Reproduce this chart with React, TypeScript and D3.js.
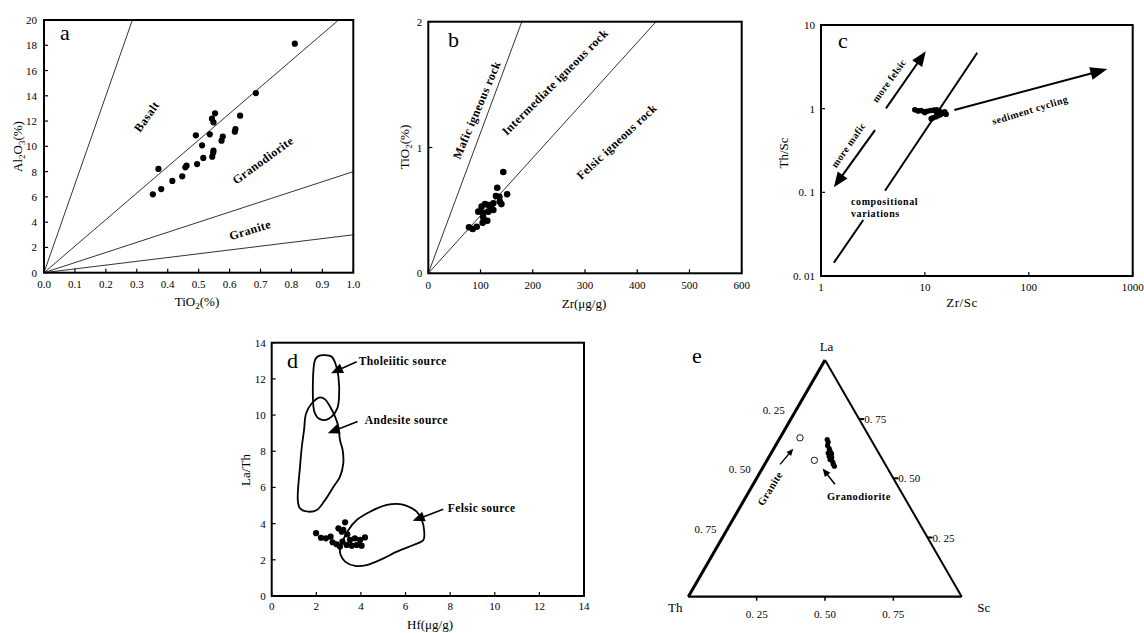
import React from 'react';
import * as d3 from 'd3';

const FONT = '"Liberation Serif", "Times New Roman", serif';

// ---------- Panel a : TiO2 vs Al2O3 ----------
const aTiO2 = [0.352, 0.379, 0.37, 0.415, 0.447, 0.457, 0.461, 0.495, 0.491, 0.511, 0.515, 0.536, 0.543, 0.553, 0.548, 0.544, 0.547, 0.548, 0.574, 0.578, 0.619, 0.617, 0.634, 0.685, 0.811];
const aAl2O3 = [6.2, 6.62, 8.21, 7.26, 7.63, 8.34, 8.47, 8.6, 10.87, 10.08, 9.08, 10.95, 12.19, 12.61, 11.9, 9.18, 9.5, 9.66, 10.45, 10.77, 11.37, 11.16, 12.43, 14.22, 18.13];
const aRatios = [70, 21, 8, 3];
const aXTicks = [0, 0.1, 0.2, 0.3, 0.4, 0.5, 0.6, 0.7, 0.8, 0.9, 1.0];
const aYTicks = [0, 2, 4, 6, 8, 10, 12, 14, 16, 18, 20];

// ---------- Panel b : Zr vs TiO2 ----------
const bZr = [143.6, 132, 151, 136, 129.6, 137, 124.5, 115, 108.6, 102, 95.8, 105, 115, 124.5, 105, 113, 104, 92.7, 85, 78, 120, 140];
const bTiO2 = [0.805, 0.68, 0.628, 0.609, 0.615, 0.57, 0.556, 0.543, 0.55, 0.53, 0.49, 0.48, 0.49, 0.503, 0.445, 0.418, 0.402, 0.37, 0.352, 0.366, 0.53, 0.55];
const bLineZrAtTop = [179, 436];
const bXTicks = [0, 100, 200, 300, 400, 500, 600];
const bYTicks = [0, 1, 2];

// ---------- Panel c : Zr/Sc vs Th/Sc ----------
const cZrSc = [8.0, 8.6, 9.2, 9.8, 10.5, 11.3, 12.2, 13.0, 13.8, 14.5, 15.2, 16.0, 12.0, 12.8, 13.5, 14.2, 11.5, 15.5, 10.0, 13.0];
const cThSc = [0.97, 0.94, 0.95, 0.92, 0.93, 0.95, 0.96, 0.97, 0.93, 0.9, 0.88, 0.86, 0.78, 0.8, 0.83, 0.85, 0.76, 0.92, 0.9, 0.88];
const cXTicks = [1, 10, 100, 1000];
const cXLabels = ['1', '10', '100', '1000'];
const cYTicks = [0.01, 0.1, 1, 10];
const cYLabels = ['0. 01', '0. 1', '1', '10'];

// ---------- Panel d : Hf vs La/Th ----------
const dHf = [1.99, 2.21, 2.43, 2.64, 2.73, 2.91, 2.99, 3.21, 3.29, 3.14, 3.39, 3.17, 3.36, 3.51, 3.59, 3.73, 3.81, 3.96, 4.03, 4.18, 3.06];
const dLaTh = [3.47, 3.22, 3.19, 3.28, 2.97, 2.86, 3.74, 3.65, 4.07, 3.55, 3.41, 3.0, 2.82, 3.1, 2.78, 3.19, 2.82, 3.1, 2.78, 3.24, 2.73];
const tholeiiticHf = [1.87, 1.94, 2.09, 2.39, 2.69, 2.88, 2.99, 3.02, 2.94, 2.69, 2.39, 2.09, 1.94];
const tholeiiticLaTh = [10.46, 13.04, 13.26, 13.31, 13.22, 12.76, 12.12, 11.01, 10.37, 9.91, 9.72, 9.82, 10.09];
const andesiteHf = [2.17, 1.79, 1.54, 1.45, 1.35, 1.27, 1.17, 1.27, 1.64, 2.02, 2.39, 2.77, 3.06, 3.21, 3.18, 3.06, 2.99, 2.84, 2.62, 2.39];
const andesiteLaTh = [10.98, 10.64, 10.09, 9.17, 8.25, 7.15, 5.3, 4.84, 4.66, 4.75, 5.3, 6.04, 6.59, 7.33, 8.07, 8.62, 9.36, 9.91, 10.46, 10.87];
const felsicHf = [3.06, 3.14, 3.44, 3.81, 4.41, 5.16, 5.75, 6.13, 6.5, 6.73, 6.83, 6.8, 6.35, 5.61, 5.01, 4.26, 3.74, 3.29, 3.09];
const felsicLaTh = [2.54, 2.91, 3.65, 4.2, 4.66, 5.03, 5.08, 4.94, 4.66, 4.2, 3.65, 3.09, 2.82, 2.45, 2.08, 1.71, 1.66, 1.9, 2.27];
const dTicks = [0, 2, 4, 6, 8, 10, 12, 14];

// ---------- Panel e : La-Th-Sc ternary ----------
const eLa = [0.664, 0.653, 0.639, 0.625, 0.615, 0.607, 0.597, 0.587, 0.579, 0.569, 0.559, 0.551, 0.604, 0.593];
const eSc = [0.176, 0.185, 0.19, 0.203, 0.211, 0.208, 0.222, 0.231, 0.229, 0.244, 0.251, 0.259, 0.222, 0.219];
const eRefLa = [0.671, 0.576];
const eRefSc = [0.073, 0.173];
const eTicks = [0.25, 0.5, 0.75];
const eTickLabels = ['0. 25', '0. 50', '0. 75'];

// ---------- scales ----------
const xA = d3.scaleLinear().domain([0, 1]).range([44, 353.3]);
const yA = d3.scaleLinear().domain([0, 20]).range([272.7, 20]);
const xB = d3.scaleLinear().domain([0, 600]).range([428.3, 741.7]);
const yB = d3.scaleLinear().domain([0, 2]).range([273.3, 21.7]);
const xC = d3.scaleLog().domain([1, 1000]).range([821, 1132.7]);
const yC = d3.scaleLog().domain([0.01, 10]).range([276, 25]);
const xD = d3.scaleLinear().domain([0, 14]).range([271.7, 584]);
const yD = d3.scaleLinear().domain([0, 14]).range([596, 342.7]);

// ternary geometry
const TH = { x: 688.3, y: 596.7 };
const SIDE = 273.4;
const HGT = SIDE * Math.sqrt(3) / 2;
const tern = (la: number, sc: number) => ({
  x: TH.x + sc * SIDE + la * SIDE / 2,
  y: TH.y - la * HGT,
});

function Arrow({ x1, y1, x2, y2, len, w, sw }: any) {
  const dx = x2 - x1, dy = y2 - y1, L = Math.hypot(dx, dy);
  const ux = dx / L, uy = dy / L;
  const bx = x2 - ux * len, by = y2 - uy * len;
  const px = -uy * w / 2, py = ux * w / 2;
  return (
    <g>
      <line x1={x1} y1={y1} x2={bx + ux * 1} y2={by + uy * 1} stroke="#000" strokeWidth={sw} />
      <polygon points={`${x2},${y2} ${bx + px},${by + py} ${bx - px},${by - py}`} fill="#000" />
    </g>
  );
}

function Frame({ x, y, xTicks, yTicks, xLabels, yLabels, xDy, yDx }: any) {
  const [x0, x1] = x.range();
  const [y0, y1] = y.range();
  return (
    <g>
      {xTicks.map((t: number, i: number) => (
        <g key={'x' + i}>
          <line x1={x(t)} x2={x(t)} y1={y0} y2={y0 - 4} stroke="#000" strokeWidth={1.2} />
          <text x={x(t)} y={y0 + xDy} textAnchor="middle" fontSize={11}>{xLabels[i]}</text>
        </g>
      ))}
      {yTicks.map((t: number, i: number) => (
        <g key={'y' + i}>
          <line x1={x0} x2={x0 + 4} y1={y(t)} y2={y(t)} stroke="#000" strokeWidth={1.2} />
          <text x={x0 - yDx} y={y(t) + 4} textAnchor="end" fontSize={11}>{yLabels[i]}</text>
        </g>
      ))}
      <rect x={x0} y={y1} width={x1 - x0} height={y0 - y1} fill="none" stroke="#000" strokeWidth={2} />
    </g>
  );
}

const lbl = { fontWeight: 'bold' as const, fontSize: 12, letterSpacing: 0.4 };

export default function App() {
  const contour = d3.line<[number, number]>()
    .x(d => xD(d[0])).y(d => yD(d[1]))
    .curve(d3.curveCatmullRomClosed.alpha(0.5));
  const zipD = (a: number[], b: number[]) => a.map((v, i) => [v, b[i]] as [number, number]);

  const la = tern(1, 0), sc = tern(0, 1);

  return (
    <svg width={1144} height={633} style={{ position: 'absolute', left: 0, top: 0, background: '#fff' }} fontFamily={FONT}>
      {/* ---------------- Panel a ---------------- */}
      <g>
        <clipPath id="clipA"><rect x={xA(0)} y={yA(20)} width={xA(1) - xA(0)} height={yA(0) - yA(20)} /></clipPath>
        <g clipPath="url(#clipA)">
          {aRatios.map(r => {
            const xe = Math.min(1, 20 / r);
            return <line key={r} x1={xA(0)} y1={yA(0)} x2={xA(xe)} y2={yA(xe * r)} stroke="#333" strokeWidth={1} />;
          })}
        </g>
        <Frame x={xA} y={yA} xTicks={aXTicks} yTicks={aYTicks}
          xLabels={aXTicks.map(d3.format('.1f'))} yLabels={aYTicks.map(String)} xDy={15.5} yDx={7} />
        {aTiO2.map((v, i) => <circle key={i} cx={xA(v)} cy={yA(aAl2O3[i])} r={3.1} fill="#000" />)}
        <text x={xA(0.052)} y={yA(18.4)} fontSize={22}>a</text>
        <text transform={`translate(${xA(0.332)},${yA(12.35)}) rotate(-55)`} textAnchor="middle" dy={4} {...lbl}>Basalt</text>
        <text transform={`translate(${xA(0.708)},${yA(8.9)}) rotate(-36)`} textAnchor="middle" dy={4} {...lbl}>Granodiorite</text>
        <text transform={`translate(${xA(0.666)},${yA(3.37)}) rotate(-17)`} textAnchor="middle" dy={4} {...lbl}>Granite</text>
        <text transform={`translate(22,146.5) rotate(-90)`} textAnchor="middle" fontSize={13}>
          <tspan>Al</tspan><tspan dy={3} fontSize={9}>2</tspan><tspan dy={-3}>O</tspan><tspan dy={3} fontSize={9}>3</tspan><tspan dy={-3}>(%)</tspan>
        </text>
        <text x={197} y={306} textAnchor="middle" fontSize={13}>
          <tspan>TiO</tspan><tspan dy={3} fontSize={9}>2</tspan><tspan dy={-3}>(%)</tspan>
        </text>
      </g>

      {/* ---------------- Panel b ---------------- */}
      <g>
        <clipPath id="clipB"><rect x={xB(0)} y={yB(2)} width={xB(600) - xB(0)} height={yB(0) - yB(2)} /></clipPath>
        <g clipPath="url(#clipB)">
          {bLineZrAtTop.map(z => <line key={z} x1={xB(0)} y1={yB(0)} x2={xB(z)} y2={yB(2)} stroke="#333" strokeWidth={1} />)}
        </g>
        <Frame x={xB} y={yB} xTicks={bXTicks} yTicks={bYTicks}
          xLabels={bXTicks.map(String)} yLabels={bYTicks.map(String)} xDy={15.5} yDx={6} />
        {bZr.map((v, i) => <circle key={i} cx={xB(v)} cy={yB(bTiO2[i])} r={3.3} fill="#000" />)}
        <text x={xB(37.7)} y={yB(1.801)} fontSize={22}>b</text>
        <text transform={`translate(${xB(92.7)},${yB(1.298)}) rotate(-67)`} textAnchor="middle" dy={4} {...lbl}>Mafic igneous rock</text>
        <text transform={`translate(${xB(242.6)},${yB(1.52)}) rotate(-45)`} textAnchor="middle" dy={4} {...lbl}>Intermediate igneous rock</text>
        <text transform={`translate(${xB(360.8)},${yB(1.046)}) rotate(-43)`} textAnchor="middle" dy={4} {...lbl}>Felsic igneous rock</text>
        <text transform={`translate(409,147) rotate(-90)`} textAnchor="middle" fontSize={13}>
          <tspan>TiO</tspan><tspan dy={3} fontSize={9}>2</tspan><tspan dy={-3}>(%)</tspan>
        </text>
        <text x={584} y={308} textAnchor="middle" fontSize={13}>Zr(μg/g)</text>
      </g>

      {/* ---------------- Panel c ---------------- */}
      <g>
        <Frame x={xC} y={yC} xTicks={cXTicks} yTicks={cYTicks}
          xLabels={cXLabels} yLabels={cYLabels} xDy={15} yDx={6} />
        <line x1={xC(1.33)} y1={yC(0.0144)} x2={xC(2.55)} y2={yC(0.0467)} stroke="#000" strokeWidth={2} />
        <line x1={xC(4.13)} y1={yC(0.1045)} x2={xC(31.9)} y2={yC(4.66)} stroke="#000" strokeWidth={2} />
        <Arrow x1={xC(4.22)} y1={yC(1.01)} x2={xC(10.2)} y2={yC(4.85)} len={15} w={12} sw={2} />
        <Arrow x1={xC(3.31)} y1={yC(0.555)} x2={xC(1.33)} y2={yC(0.115)} len={15} w={12} sw={2} />
        <Arrow x1={xC(19.2)} y1={yC(0.962)} x2={xC(570)} y2={yC(2.97)} len={17} w={13} sw={2} />
        {cZrSc.map((v, i) => <circle key={i} cx={xC(v)} cy={yC(cThSc[i])} r={2.8} fill="#000" />)}
        <text x={838} y={47.5} fontSize={22}>c</text>
        <text transform={`translate(889,80.7) rotate(-54)`} textAnchor="middle" dy={3.5} fontWeight="bold" fontSize={10} letterSpacing={0.4}>more felsic</text>
        <text transform={`translate(848.3,145) rotate(-55)`} textAnchor="middle" dy={3.5} fontWeight="bold" fontSize={10} letterSpacing={0.4}>more mafic</text>
        <text transform={`translate(1030,110) rotate(-17)`} textAnchor="middle" dy={3.5} fontWeight="bold" fontSize={10} letterSpacing={0.5}>sediment cycling</text>
        <text x={851} y={205} fontWeight="bold" fontSize={10} letterSpacing={0.6}>compositional</text>
        <text x={851} y={217} fontWeight="bold" fontSize={10} letterSpacing={0.6}>variations</text>
        <text transform={`translate(788,153) rotate(-90)`} textAnchor="middle" fontSize={13}>Th/Sc</text>
        <text x={962} y={307} textAnchor="middle" fontSize={13} letterSpacing={0.5}>Zr/Sc</text>
      </g>

      {/* ---------------- Panel d ---------------- */}
      <g>
        <Frame x={xD} y={yD} xTicks={dTicks} yTicks={dTicks}
          xLabels={dTicks.map(String)} yLabels={dTicks.map(String)} xDy={14} yDx={6} />
        <path d={contour(zipD(tholeiiticHf, tholeiiticLaTh)) || ''} fill="none" stroke="#000" strokeWidth={1.8} />
        <path d={contour(zipD(andesiteHf, andesiteLaTh)) || ''} fill="none" stroke="#000" strokeWidth={1.8} />
        <path d={contour(zipD(felsicHf, felsicLaTh)) || ''} fill="none" stroke="#000" strokeWidth={1.8} />
        {dHf.map((v, i) => <circle key={i} cx={xD(v)} cy={yD(dLaTh[i])} r={3.1} fill="#000" />)}
        <Arrow x1={xD(3.81)} y1={yD(12.95)} x2={xD(2.66)} y2={yD(12.31)} len={12} w={10} sw={1.6} />
        <Arrow x1={xD(3.85)} y1={yD(9.64)} x2={xD(2.51)} y2={yD(8.99)} len={12} w={10} sw={1.6} />
        <Arrow x1={xD(7.69)} y1={yD(4.79)} x2={xD(6.32)} y2={yD(4.16)} len={12} w={10} sw={1.6} />
        <text x={xD(3.9)} y={yD(12.77)} {...lbl} fontSize={11.5}>Tholeiitic source</text>
        <text x={xD(4.17)} y={yD(9.49)} {...lbl} fontSize={11.5}>Andesite source</text>
        <text x={xD(7.89)} y={yD(4.64)} {...lbl} fontSize={11.5}>Felsic source</text>
        <text x={287} y={368} fontSize={22}>d</text>
        <text transform={`translate(250,470) rotate(-90)`} textAnchor="middle" fontSize={13}>La/Th</text>
        <text x={430} y={629} textAnchor="middle" fontSize={13}>Hf(μg/g)</text>
      </g>

      {/* ---------------- Panel e ---------------- */}
      <g>
        {eTicks.map((t, i) => {
          const pL = tern(1 - t, 0); // left edge, Th fraction t
          const pR = tern(t, 1 - t); // right edge, La fraction t
          const pB = tern(0, t); // bottom edge, Sc fraction t
          return (
            <g key={i}>
              <line x1={pL.x} y1={pL.y} x2={pL.x - 1.5} y2={pL.y + 4} stroke="#000" strokeWidth={1.5} />
              <text x={pL.x - 6} y={pL.y - 5} textAnchor="end" fontSize={11}>{eTickLabels[i]}</text>
              <line x1={pR.x} y1={pR.y} x2={pR.x + 5} y2={pR.y} stroke="#000" strokeWidth={2} />
              <text x={pR.x + 5} y={pR.y + 4} textAnchor="start" fontSize={11}>{eTickLabels[i]}</text>
              <line x1={pB.x} y1={pB.y} x2={pB.x} y2={pB.y + 4} stroke="#000" strokeWidth={1.5} />
              <text x={pB.x} y={pB.y + 21} textAnchor="middle" fontSize={11}>{eTickLabels[i]}</text>
            </g>
          );
        })}
        <line x1={la.x} y1={la.y} x2={sc.x} y2={sc.y} stroke="#000" strokeWidth={2} />
        <line x1={TH.x} y1={TH.y} x2={sc.x} y2={sc.y} stroke="#000" strokeWidth={2.2} />
        <line x1={TH.x} y1={TH.y} x2={la.x} y2={la.y} stroke="#000" strokeWidth={3} />
        {eLa.map((v, i) => {
          const p = tern(v, eSc[i]);
          return <circle key={i} cx={p.x} cy={p.y} r={2.6} fill="#000" />;
        })}
        {eRefLa.map((v, i) => {
          const p = tern(v, eRefSc[i]);
          return <circle key={i} cx={p.x} cy={p.y} r={3.2} fill="#fff" stroke="#000" strokeWidth={0.9} />;
        })}
        {(() => {
          const g1 = tern(0.559, 0.056), g2 = tern(0.625, 0.0717);
          const d1 = tern(0.4747, 0.299), d2 = tern(0.541, 0.221);
          const gt = tern(0.4566, 0.0705), dt = tern(0.424, 0.412);
          return (
            <g>
              <Arrow x1={g1.x} y1={g1.y} x2={g2.x} y2={g2.y} len={7} w={6} sw={1.3} />
              <Arrow x1={d1.x} y1={d1.y} x2={d2.x} y2={d2.y} len={8} w={7} sw={1.6} />
              <text transform={`translate(${gt.x},${gt.y}) rotate(-58)`} textAnchor="middle" dy={3.5} fontWeight="bold" fontSize={10.5} letterSpacing={0.4}>Granite</text>
              <text x={dt.x} y={dt.y + 4} textAnchor="middle" fontWeight="bold" fontSize={10.5} letterSpacing={0.4}>Granodiorite</text>
            </g>
          );
        })()}
        <text x={la.x + 1.5} y={la.y - 9} textAnchor="middle" fontSize={13}>La</text>
        <text x={TH.x - 13} y={TH.y + 15} textAnchor="middle" fontSize={13}>Th</text>
        <text x={sc.x + 22} y={sc.y + 15} textAnchor="middle" fontSize={13}>Sc</text>
        <text x={692} y={363} fontSize={22}>e</text>
      </g>
    </svg>
  );
}
